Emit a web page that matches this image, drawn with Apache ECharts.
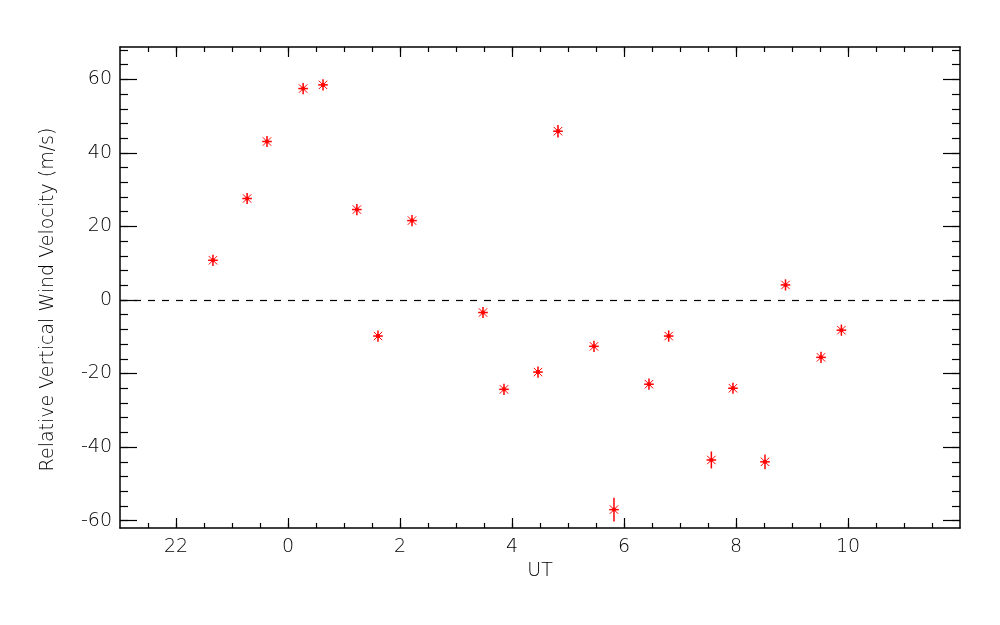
<!DOCTYPE html>
<html>
<head>
<meta charset="utf-8">
<script src="https://cdn.jsdelivr.net/npm/echarts@6/dist/echarts.min.js"></script>
<style>html,body{margin:0;padding:0;background:#fff}#c{width:1000px;height:625px}</style>
</head>
<body>
<div id="c"></div>
<script>
// UT hours (negative = hours before midnight, i.e. 22 h = -2)
var ut  = [-1.34, -0.73, -0.375, 0.27, 0.625, 1.23, 1.607, 2.214, 3.482, 3.857, 4.464, 4.821, 5.464, 5.821, 6.446, 6.798, 7.56, 7.946, 8.518, 8.884, 9.518, 9.882];
var vel = [10.8, 27.6, 43.1, 57.5, 58.5, 24.6, -9.8, 21.6, -3.4, -24.3, -19.6, 45.9, -12.6, -57.0, -22.9, -9.8, -43.5, -24.0, -44.0, 4.1, -15.6, -8.2];
var err = [1.0, 1.0, 1.1, 1.0, 1.0, 1.0, 1.0, 1.0, 1.0, 1.0, 1.0, 1.7, 1.0, 3.2, 1.5, 1.0, 2.3, 1.0, 2.0, 1.0, 1.0, 1.0];

var xMajor = [-2, 0, 2, 4, 6, 8, 10];
var yMajor = [-60, -40, -20, 0, 20, 40, 60];
var xRange = [-3, 12];
var yRange = [-62, 68.8];

var xMinor = []; for (var v = -2.5; v < 12; v += 0.5) xMinor.push(v);
var yMinor = []; for (var w = -60; w <= 68; w += 4) yMinor.push(w);

var pts = ut.map(function (x, i) { return [x, vel[i], err[i]]; });

var FONT = 'DejaVu Sans';
var FW = 200;
var FS = 19;
var lineStyle = { color: '#000', width: 1.5 };

function xAx(pos, ticks, len, showLine, showLabel) {
  return {
    type: 'value', position: pos, min: xRange[0], max: xRange[1],
    splitLine: { show: false },
    axisLine: { show: showLine, onZero: false, lineStyle: lineStyle },
    axisTick: { show: true, inside: true, length: len, customValues: ticks, lineStyle: { color: '#000', width: 1.2 } },
    axisLabel: showLabel ? {
      show: true, customValues: ticks, margin: 10, color: '#000', fontFamily: FONT, fontWeight: FW, fontSize: FS,
      formatter: function (v) { return String(v < 0 ? v + 24 : v); }
    } : { show: false },
    name: showLabel ? 'UT' : '', nameLocation: 'middle', nameGap: 34,
    nameTextStyle: { color: '#000', fontFamily: FONT, fontWeight: FW, fontSize: FS }
  };
}
function yAx(pos, ticks, len, showLine, showLabel) {
  return {
    type: 'value', position: pos, min: yRange[0], max: yRange[1],
    splitLine: { show: false },
    axisLine: { show: showLine, onZero: false, lineStyle: lineStyle },
    axisTick: { show: true, inside: true, length: len, customValues: ticks, lineStyle: { color: '#000', width: 1.2 } },
    axisLabel: showLabel ? { show: true, customValues: ticks, margin: 8, color: '#000', fontFamily: FONT, fontWeight: FW, fontSize: FS } : { show: false },
    name: showLabel ? 'Relative Vertical Wind Velocity (m/s)' : '', nameLocation: 'middle', nameGap: 62,
    nameTextStyle: { color: '#000', fontFamily: FONT, fontWeight: FW, fontSize: FS, padding: [0, 24, 0, 0] }
  };
}

var chart = echarts.init(document.getElementById('c'), null, { renderer: 'canvas' });
chart.setOption({
  animation: false,
  backgroundColor: '#fff',
  grid: { left: 120, right: 40, top: 47, bottom: 97, containLabel: false },
  xAxis: [
    xAx('bottom', xMajor, 10, true, true),
    xAx('bottom', xMinor, 5, false, false),
    xAx('top', xMajor, 10, true, false),
    xAx('top', xMinor, 5, false, false)
  ],
  yAxis: [
    yAx('left', yMajor, 17, true, true),
    yAx('left', yMinor, 8, false, false),
    yAx('right', yMajor, 17, true, false),
    yAx('right', yMinor, 8, false, false)
  ],
  series: [
    {
      type: 'line', xAxisIndex: 0, yAxisIndex: 0, data: [], silent: true,
      markLine: {
        symbol: 'none', silent: true, label: { show: false },
        lineStyle: { color: '#000', width: 1.2, type: [7, 7] },
        data: [{ yAxis: 0 }]
      }
    },
    {
      type: 'custom', xAxisIndex: 0, yAxisIndex: 0, data: pts,
      renderItem: function (params, api) {
        var x = api.value(0), y = api.value(1), e = api.value(2);
        var c = api.coord([x, y]);
        var top = api.coord([x, y + e]), bot = api.coord([x, y - e]);
        var red = '#ff0000';
        var a = 4.8, d = 4.2;
        var vt = Math.min(top[1], c[1] - a - 0.8), vb = Math.max(bot[1], c[1] + a + 0.8);
        return {
          type: 'group',
          children: [
            { type: 'line', shape: { x1: c[0], y1: vt, x2: c[0], y2: vb }, style: { stroke: red, lineWidth: 1.5 } },
            { type: 'line', shape: { x1: c[0] - a, y1: c[1], x2: c[0] + a, y2: c[1] }, style: { stroke: red, lineWidth: 1.5 } },
            { type: 'line', shape: { x1: c[0] - d, y1: c[1] - d, x2: c[0] + d, y2: c[1] + d }, style: { stroke: red, lineWidth: 1 } },
            { type: 'line', shape: { x1: c[0] - d, y1: c[1] + d, x2: c[0] + d, y2: c[1] - d }, style: { stroke: red, lineWidth: 1 } },
            { type: 'circle', shape: { cx: c[0], cy: c[1], r: 2 }, style: { fill: red } }
          ]
        };
      }
    }
  ]
});
</script>
</body>
</html>
